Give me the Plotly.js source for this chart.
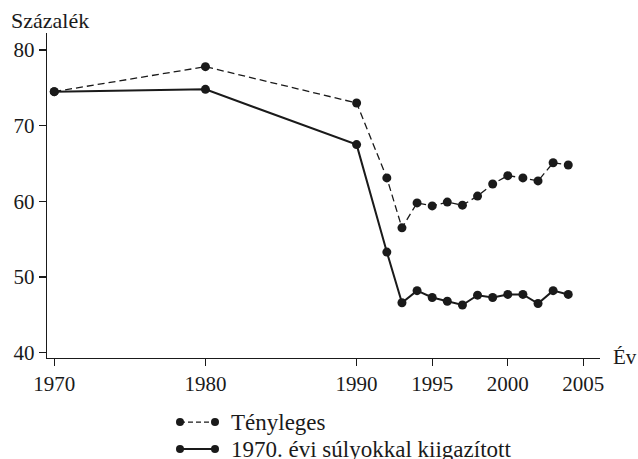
<!DOCTYPE html>
<html>
<head>
<meta charset="utf-8">
<script src="https://cdn.plot.ly/plotly-3.0.1.min.js"></script>
<style>html,body{margin:0;padding:0;background:#fff;}#chart{width:638px;height:459px;}</style>
</head>
<body>
<div id="chart"></div>
<script>
const years = [1970, 1980, 1990, 1992, 1993, 1994, 1995, 1996, 1997, 1998, 1999, 2000, 2001, 2002, 2003, 2004];
const tenyleges = [74.5, 77.8, 73.0, 63.1, 56.5, 59.8, 59.4, 59.9, 59.5, 60.7, 62.3, 63.4, 63.1, 62.7, 65.1, 64.8];
const kiigazitott = [74.5, 74.8, 67.5, 53.3, 46.6, 48.2, 47.3, 46.8, 46.3, 47.6, 47.3, 47.7, 47.7, 46.5, 48.2, 47.7];
const seriesNames = ['Tényleges', '1970. évi súlyokkal kiigazított'];
const xTicks = [1970, 1980, 1990, 1995, 2000, 2005];
const yTicks = [40, 50, 60, 70, 80];

const ink = '#1a1a1a';
const font = 'Liberation Serif, Times New Roman, serif';
const fs = 21;
const fsText = 23;

const traces = [
  {x: years, y: tenyleges, name: seriesNames[0], mode: 'lines+markers', type: 'scatter',
   line: {color: ink, width: 1.3, dash: '7px,4px'}, marker: {color: ink, size: 9}},
  {x: years, y: kiigazitott, name: seriesNames[1], mode: 'lines+markers', type: 'scatter',
   line: {color: ink, width: 2}, marker: {color: ink, size: 9}}
];

// custom legend geometry (paper coords)
const legX0 = 0.2405, legX1 = 0.3038, legTx = 0.329;
const legY = [-0.197, -0.28];
const shapes = [];
const annotations = [];
[0, 1].forEach(i => {
  shapes.push({type: 'line', xref: 'paper', yref: 'paper', x0: legX0, x1: legX1, y0: legY[i], y1: legY[i],
    line: {color: ink, width: i === 0 ? 1.3 : 2, dash: i === 0 ? '5px,3px' : 'solid'}});
  [legX0, legX1].forEach(xx => {
    shapes.push({type: 'circle', xref: 'paper', yref: 'paper', xsizemode: 'pixel', ysizemode: 'pixel',
      xanchor: xx, yanchor: legY[i], x0: -4, x1: 4, y0: -4, y1: 4,
      fillcolor: ink, line: {color: ink, width: 0}});
  });
  annotations.push({xref: 'paper', yref: 'paper', x: legTx, y: legY[i], xanchor: 'left', yanchor: 'middle',
    text: seriesNames[i], showarrow: false, font: {family: font, size: fsText, color: ink}});
});
annotations.push({xref: 'paper', yref: 'paper', x: -0.0687, y: 1.038, xanchor: 'left', yanchor: 'middle',
  text: 'Százalék', showarrow: false, font: {family: font, size: 22, color: ink}});
annotations.push({xref: 'paper', yref: 'paper', x: 1.0199, y: 0.003, xanchor: 'left', yanchor: 'middle',
  text: 'Év', showarrow: false, font: {family: font, size: fs, color: ink}});

const layout = {
  width: 638, height: 459,
  margin: {l: 47, r: 38, t: 33, b: 101},
  paper_bgcolor: '#fff', plot_bgcolor: '#fff',
  showlegend: false,
  font: {family: font, size: fs, color: ink},
  xaxis: {range: [1969.52, 2006.1], tickvals: xTicks, ticks: 'outside', ticklen: 7, tickwidth: 1.2,
    tickcolor: ink, showline: true, linecolor: ink, linewidth: 1.2, showgrid: false, zeroline: false,
    tickfont: {family: font, size: fs, color: ink}},
  yaxis: {range: [39.3, 82.25], tickvals: yTicks, ticks: 'outside', ticklen: 7, tickwidth: 1.2,
    tickcolor: ink, showline: true, linecolor: ink, linewidth: 1.2, showgrid: false, zeroline: false,
    tickfont: {family: font, size: fs, color: ink}},
  shapes: shapes,
  annotations: annotations
};

Plotly.newPlot('chart', traces, layout, {displayModeBar: false, staticPlot: true});
</script>
</body>
</html>
